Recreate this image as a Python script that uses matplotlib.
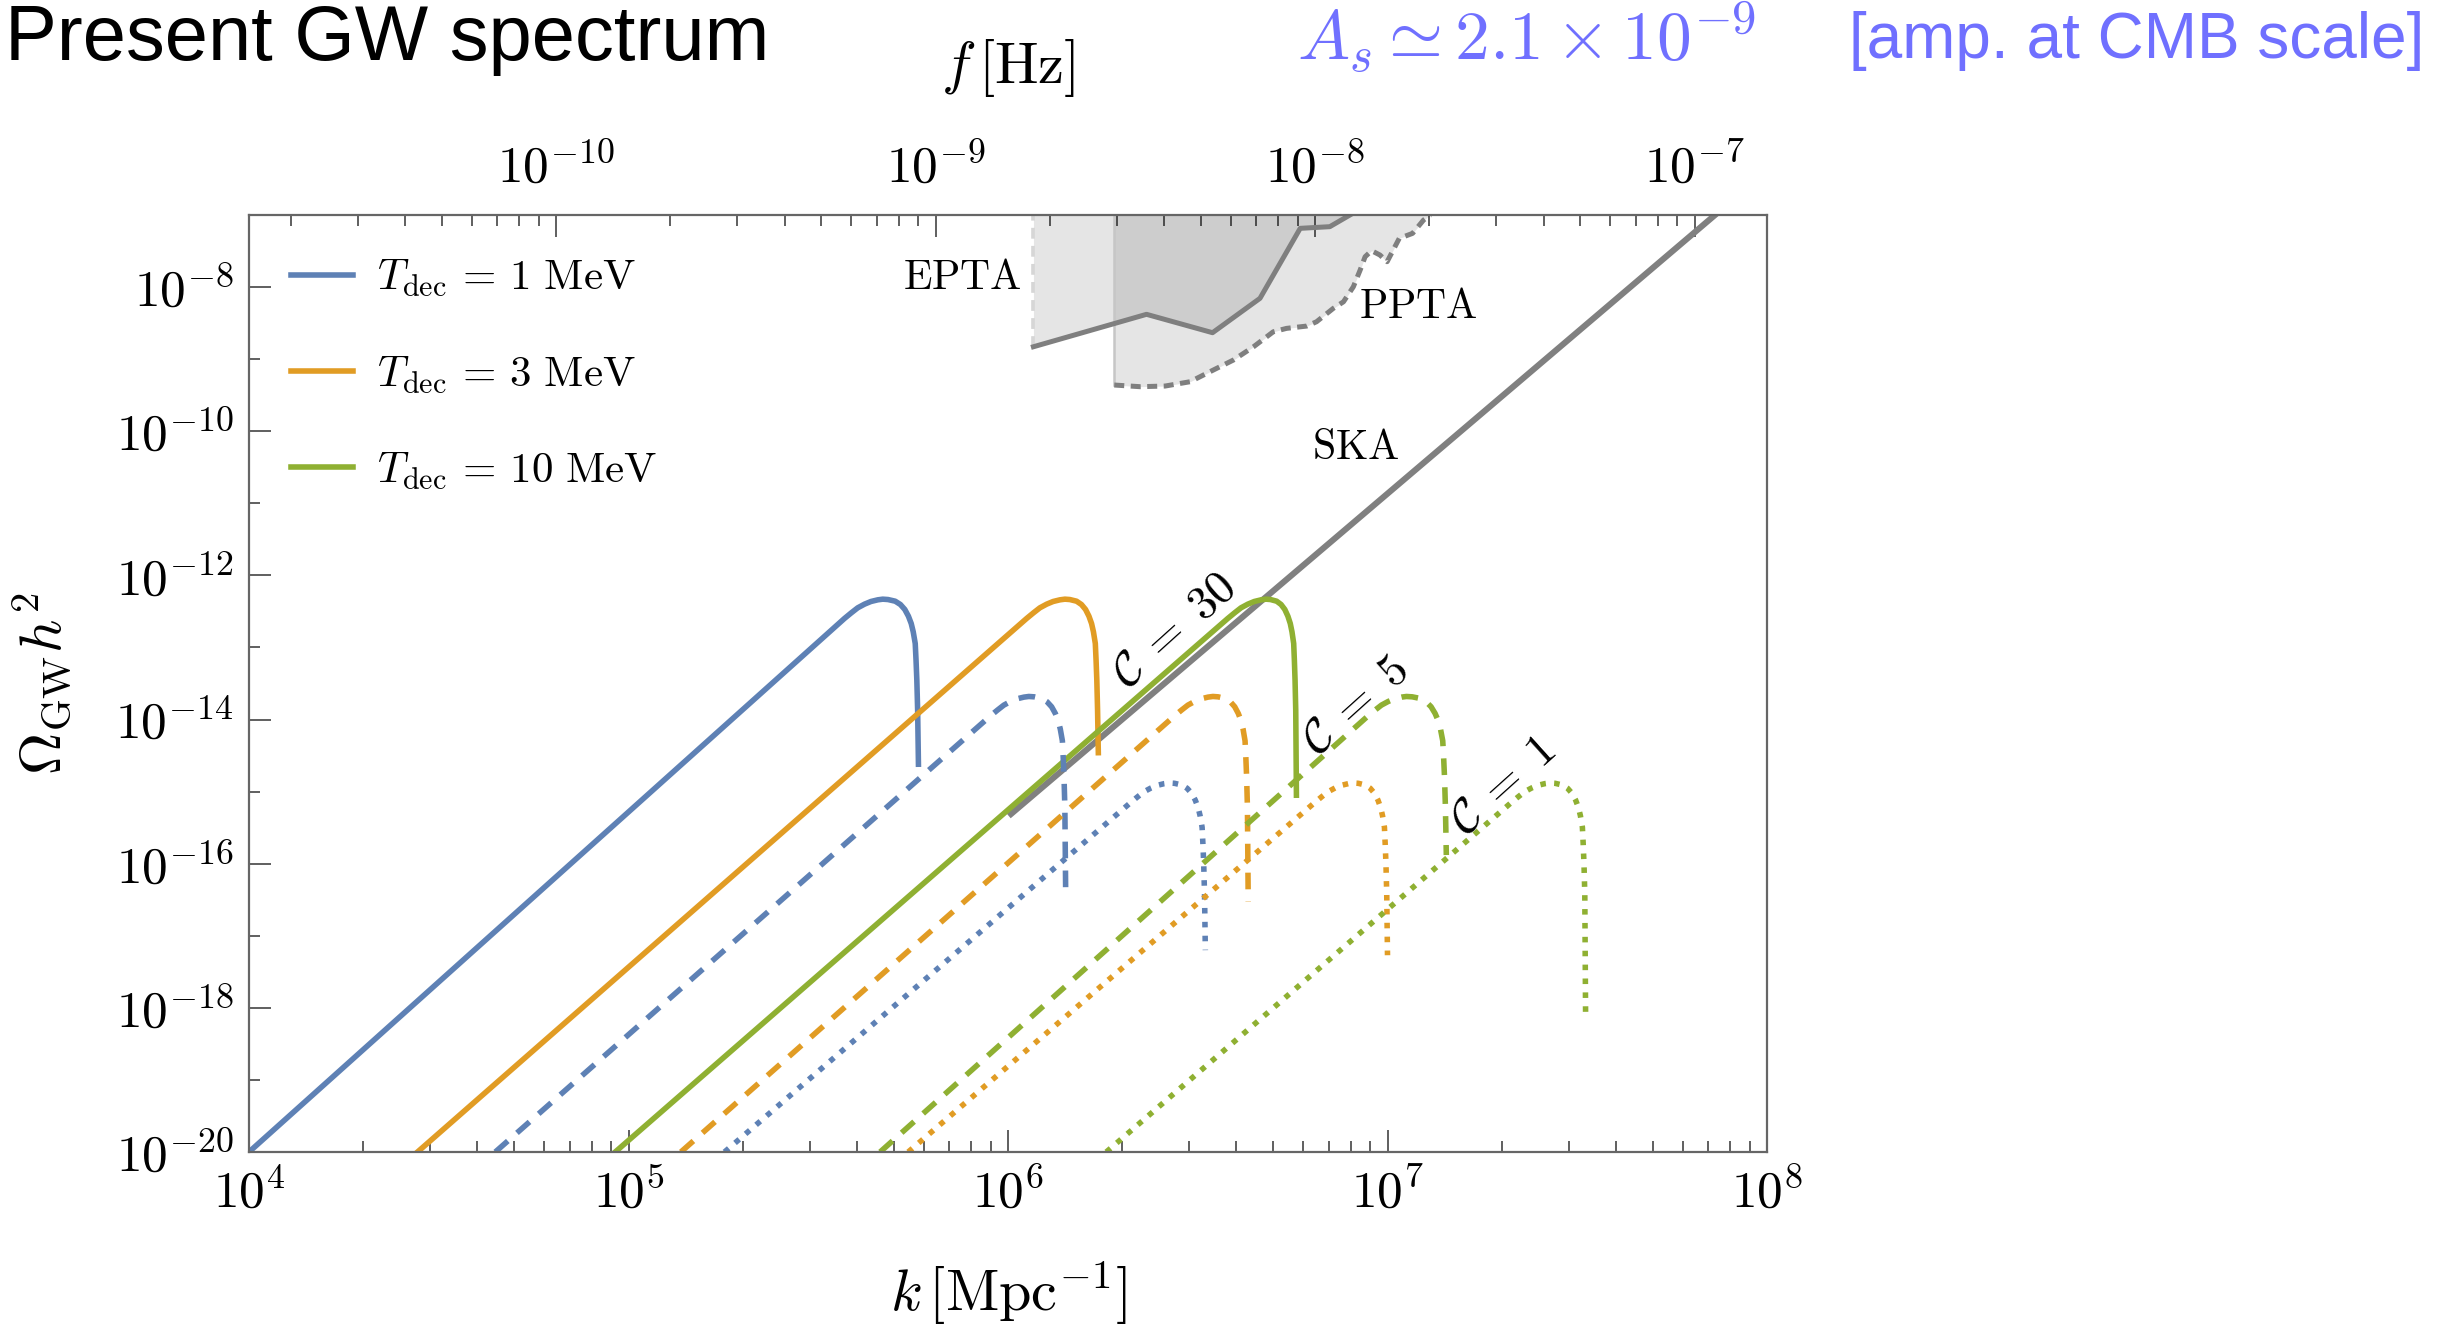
import numpy as np
import matplotlib
matplotlib.use('Agg')
import matplotlib.pyplot as plt
from matplotlib.ticker import LogLocator, NullFormatter

plt.rcParams['mathtext.fontset'] = 'cm'
plt.rcParams['font.family'] = ['DejaVu Serif']

# ---- data (log10 values) ----
t_labels = [r'$T_{\rm dec}\,=\,1\ \mathrm{MeV}$',
            r'$T_{\rm dec}\,=\,3\ \mathrm{MeV}$',
            r'$T_{\rm dec}\,=\,10\ \mathrm{MeV}$']
colors = ['#5E81B5', '#E19C24', '#8FB032']

# one row per C (30, 5, 1), one column per T_dec (1, 3, 10 MeV)
start_k = [[4.000, 4.444, 4.965],      # where the curve leaves Omega = 1e-20
           [4.649, 5.138, 5.663],
           [5.253, 5.737, 6.259]]
peak_k = [[5.670, 6.150, 6.680],
          [6.055, 6.540, 7.050],
          [6.425, 6.910, 7.428]]
peak_om = [-12.33, -13.68, -14.88]
cut_k = [[5.764, 6.238, 6.760],
         [6.152, 6.633, 7.155],
         [6.520, 7.000, 7.522]]
end_om = [[-14.62, -14.46, -15.05],
          [-16.41, -16.53, -15.88],
          [-17.20, -17.27, -18.10]]

# peak shape traced from the 1 MeV / C=30 curve (offsets from its maximum)
left_dk = [-0.101, -0.083, -0.066, -0.048, -0.031, -0.013, 0.0]
left_dom = [-0.268, -0.190, -0.120, -0.069, -0.032, -0.009, 0.0]
right_dk = [0.013, 0.031, 0.044, 0.055, 0.064, 0.071, 0.076, 0.081, 0.083, 0.085, 0.087]
right_dom = [-0.005, -0.028, -0.074, -0.143, -0.236, -0.338, -0.453, -0.615, -0.846, -1.124, -1.540]

c_labels = [r'$\mathcal{C}\;=\;30$', r'$\mathcal{C}\;=\;5$', r'$\mathcal{C}\;=\;1$']
c_label_pos = [(6.440, -12.77), (6.917, -13.80), (7.304, -14.92)]

ska_k = [6.008, 7.863]
ska_om = [-15.31, -7.0]

epta_k = [6.067, 6.365, 6.539, 6.664, 6.770, 6.848, 6.901]
epta_om = [-8.828, -8.378, -8.633, -8.156, -7.185, -7.162, -7.0]

ppta_k = [6.280, 6.348, 6.414, 6.480, 6.541, 6.594, 6.647, 6.699, 6.734, 6.787, 6.813,
          6.857, 6.884, 6.910, 6.928, 6.941, 6.958, 6.980, 6.999, 7.031, 7.066, 7.095, 7.113]
ppta_om = [-9.359, -9.382, -9.373, -9.313, -9.151, -9.012, -8.828, -8.620, -8.573, -8.541, -8.481,
           -8.296, -8.204, -7.996, -7.763, -7.579, -7.495, -7.555, -7.648, -7.324, -7.255, -7.07, -7.0]

k_ticks = [1e4, 1e5, 1e6, 1e7, 1e8]
k_ticklabels = [r'$10^{4}$', r'$10^{5}$', r'$10^{6}$', r'$10^{7}$', r'$10^{8}$']
om_ticks = [1e-20, 1e-18, 1e-16, 1e-14, 1e-12, 1e-10, 1e-8]
om_ticklabels = [r'$10^{-20}$', r'$10^{-18}$', r'$10^{-16}$', r'$10^{-14}$',
                 r'$10^{-12}$', r'$10^{-10}$', r'$10^{-8}$']
om_minor = [1e-19, 1e-17, 1e-15, 1e-13, 1e-11, 1e-9]
f_ticks = [1e-10, 1e-9, 1e-8, 1e-7]
f_ticklabels = [r'$10^{-10}$', r'$10^{-9}$', r'$10^{-8}$', r'$10^{-7}$']
hz_per_k = 1.552e-15

# ---- figure ----
fig = plt.figure(figsize=(12.22, 6.64), dpi=200)
ax = fig.add_axes([249 / 2444, 1 - 1152 / 1328, 1518 / 2444, 937 / 1328])
ax.set_xscale('log')
ax.set_yscale('log')
ax.set_xlim(1e4, 1e8)
ax.set_ylim(1e-20, 1e-7)

# pulsar timing regions
top = 1e-7
ax.fill_between(10 ** np.array(epta_k), 10 ** np.array(epta_om), top, color='k', alpha=0.1, lw=0)
ax.fill_between(10 ** np.array(ppta_k), 10 ** np.array(ppta_om), top, color='k', alpha=0.1, lw=0)
ax.plot([10 ** epta_k[0]] * 2, [10 ** epta_om[0], top], color='#d6d6d6', lw=1.3, ls=(0, (3, 2)))
ax.plot([10 ** ppta_k[0]] * 2, [10 ** ppta_om[0], top], color='#c6c6c6', lw=0.9)
ax.plot(10 ** np.array(epta_k), 10 ** np.array(epta_om), color='#7f7f7f', lw=1.8)
ax.plot(10 ** np.array(ppta_k), 10 ** np.array(ppta_om), color='#7f7f7f', lw=1.8, ls=(0, (2.0, 1.3)))
ax.plot(10 ** np.array(ska_k), 10 ** np.array(ska_om), color='#808080', lw=2.2)

# GW spectra
styles = ['-', (0, (3.0, 2.2)), (0, (1.0, 1.5))]
for ic in range(3):
    for it in range(3):
        pk = peak_k[ic][it]
        po = peak_om[ic]
        s = (cut_k[ic][it] - pk) / 0.089
        lk = [start_k[ic][it]] + [pk + d for d in left_dk] + [pk + d * s for d in right_dk] + [cut_k[ic][it]]
        lo = [-20.0] + [po + d for d in left_dom] + [po + d for d in right_dom] + [end_om[ic][it]]
        ax.plot(10 ** np.array(lk), 10 ** np.array(lo), color=colors[it], lw=2.0, ls=styles[ic],
                label=t_labels[it] if ic == 0 else None)

for lab, (xk, yo) in zip(c_labels, c_label_pos):
    ax.text(10 ** xk, 10 ** yo, lab, fontsize=17, rotation=42, ha='center', va='center')

ax.text(10 ** 5.879, 10 ** -7.86, r'$\mathrm{EPTA}$', fontsize=15, ha='center', va='center')
ax.text(10 ** 7.080, 10 ** -8.256, r'$\mathrm{PPTA}$', fontsize=15, ha='center', va='center')
ax.text(10 ** 6.917, 10 ** -10.22, r'$\mathrm{SKA}$', fontsize=15, ha='center', va='center')

# axes styling
for sp in ax.spines.values():
    sp.set_color('#666666')
    sp.set_linewidth(0.8)
ax.set_xticks(k_ticks)
ax.set_xticklabels(k_ticklabels)
ax.xaxis.set_minor_locator(LogLocator(base=10, subs=np.arange(2, 10)))
ax.xaxis.set_minor_formatter(NullFormatter())
ax.set_yticks(om_ticks)
ax.set_yticklabels(om_ticklabels)
ax.set_yticks(om_minor, minor=True)
ax.yaxis.set_minor_formatter(NullFormatter())
ax.tick_params(which='both', direction='in', top=False, right=False, color='#444444', width=0.6,
               labelsize=18.5)
ax.tick_params(which='major', length=8)
ax.tick_params(which='minor', length=3.8)
ax.tick_params(axis='x', pad=6)
ax.tick_params(axis='y', pad=5.5)

secax = ax.secondary_xaxis('top', functions=(lambda k: k * hz_per_k, lambda f: f / hz_per_k))
secax.set_xticks(f_ticks)
secax.set_xticklabels(f_ticklabels)
secax.xaxis.set_minor_locator(LogLocator(base=10, subs=np.arange(2, 10)))
secax.xaxis.set_minor_formatter(NullFormatter())
secax.tick_params(which='both', direction='in', color='#444444', width=0.6, labelsize=18.5, pad=8)
secax.tick_params(which='major', length=8)
secax.tick_params(which='minor', length=3.8)
secax.spines['top'].set_visible(False)

ax.set_xlabel(r'$k\,[\mathrm{Mpc}^{-1}]$', fontsize=21)
ax.xaxis.set_label_coords(0.5, -0.115)
ax.set_ylabel(r'$\Omega_{\rm GW} h^2$', fontsize=21)
ax.yaxis.set_label_coords(-0.116, 0.5)
ax.text(0.5, 1.124, r'$f\,[\mathrm{Hz}]$', transform=ax.transAxes, fontsize=21, ha='center', va='bottom')

ax.legend(loc='upper left', bbox_to_anchor=(0.0277, 0.955), frameon=False, fontsize=15.5,
          borderpad=0, borderaxespad=0, handlelength=1.44, handletextpad=0.56, labelspacing=1.25)

# slide title and note
fig.text(0.002, 1 - 60 / 1328, 'Present GW spectrum', family='Liberation Sans', fontsize=28,
         ha='left', va='baseline')
blue_note = '#7070ff'
fig.text(1297 / 2444, 1 - 60 / 1328, r'$A_s \simeq 2.1\times 10^{-9}$', color=blue_note, fontsize=25,
         ha='left', va='baseline')
fig.text(2424 / 2444, 1 - 58 / 1328, '[amp. at CMB scale]', color=blue_note, family='Liberation Sans',
         fontsize=23, ha='right', va='baseline')

fig.savefig('out.png', dpi=200)
